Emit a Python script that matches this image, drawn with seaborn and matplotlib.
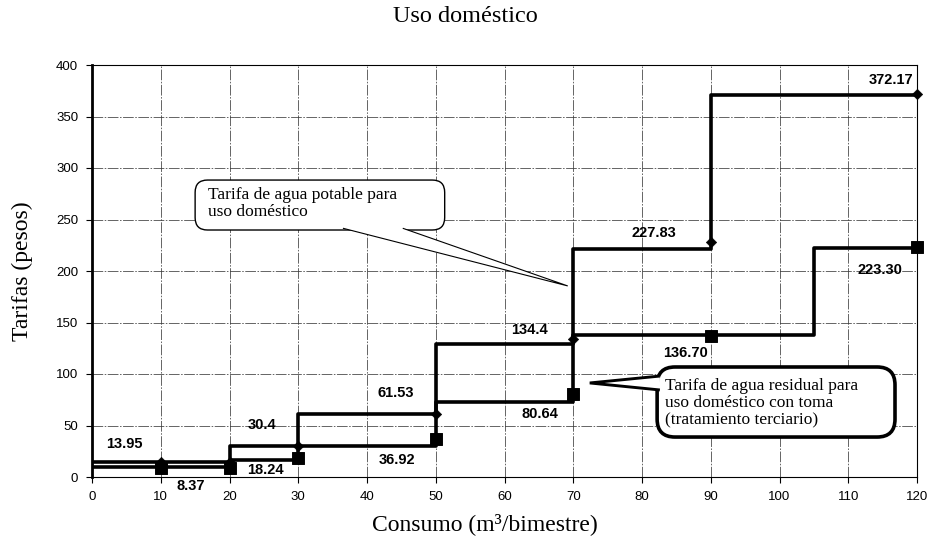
import pandas as pd
import seaborn as sns
import matplotlib.pyplot as plt
from matplotlib.patches import FancyBboxPatch, Polygon

# tariff blocks: where each block starts (last value closes the range) and the drawn level
potable_edges = [0, 20, 30, 50, 70, 90, 120]
potable_levels = [14.5, 30, 61.5, 129, 221.5, 371]
residual_edges = [0, 20, 30, 50, 70, 105, 120]
residual_levels = [9.5, 16.5, 30, 73, 138, 222]

# marked points on each series
mark_x = [10, 20, 30, 50, 70, 90, 120]
potable_marks = [14.5, 14.5, 30.4, 61.53, 134.4, 227.83, 372.17]
residual_marks = [9, 9, 18.24, 36.92, 80.64, 136.70, 223.30]

potable_labels = ["13.95", "30.4", "61.53", "134.4", "227.83", "372.17"]
residual_labels = ["8.37", "18.24", "36.92", "80.64", "136.70", "223.30"]

x_ticks = list(range(0, 121, 10))
y_ticks = list(range(0, 401, 50))

# where the value labels sit (data coords, label centre)
potable_label_xy = [(4.7, 32), (24.7, 50.5), (44.2, 81.5), (63.6, 142.5), (81.8, 237), (116.2, 385)]
residual_label_xy = [(14.3, -8.7), (25.2, 6.8), (44.4, 16.5), (65.2, 61), (86.3, 120), (114.6, 201)]

sns.set_style("white")
plt.rcParams["font.family"] = ["Liberation Sans", "DejaVu Sans"]
plt.rcParams["text.color"] = "black"
plt.rcParams["xtick.color"] = "black"
plt.rcParams["ytick.color"] = "black"
serif = ["Liberation Serif", "DejaVu Serif"]

fig, ax = plt.subplots(figsize=(9.3, 5.49), dpi=100)
fig.subplots_adjust(left=92 / 930, right=917 / 930, bottom=1 - 477 / 549, top=1 - 65 / 549)

pot_df = pd.DataFrame({"x": potable_edges, "y": potable_levels + [potable_levels[-1]]})
res_df = pd.DataFrame({"x": residual_edges, "y": residual_levels + [residual_levels[-1]]})

sns.lineplot(data=pot_df, x="x", y="y", drawstyle="steps-post", color="black",
             lw=2.6, estimator=None, sort=False, ax=ax, zorder=3)
sns.lineplot(data=res_df, x="x", y="y", drawstyle="steps-post", color="black",
             lw=2.6, estimator=None, sort=False, ax=ax, zorder=3)
sns.scatterplot(x=mark_x, y=potable_marks, marker="D", s=28, color="black",
                edgecolor="black", ax=ax, zorder=4, clip_on=False)
sns.scatterplot(x=mark_x, y=residual_marks, marker="s", s=70, color="black",
                edgecolor="black", ax=ax, zorder=4, clip_on=False)

for txt, (lx, ly) in zip(potable_labels, potable_label_xy):
    ax.text(lx, ly, txt, ha="center", va="center", fontsize=10.5, fontweight="bold",
            color="black", zorder=6)
for txt, (lx, ly) in zip(residual_labels, residual_label_xy):
    ax.text(lx, ly, txt, ha="center", va="center", fontsize=10.5, fontweight="bold",
            color="black", zorder=6)

ax.set_xlim(0, 120)
ax.set_ylim(0, 400)
ax.set_xticks(x_ticks)
ax.set_yticks(y_ticks)
ax.tick_params(axis="both", labelsize=9.5, length=4, width=0.8, direction="out",
               left=True, bottom=True, pad=6, colors="black")
ax.grid(True, color="#3a3a3a", lw=0.55, linestyle=(0, (14, 2, 2, 2)))
ax.set_xlabel("")
ax.set_ylabel("")
for side in ["top", "right", "bottom"]:
    ax.spines[side].set_color("black")
    ax.spines[side].set_linewidth(0.8)
ax.spines["left"].set_color("black")
ax.spines["left"].set_linewidth(2)

fig.text(0.5, 1 - 17 / 549, "Uso doméstico", ha="center", va="center", fontsize=17.5, family=serif)
fig.text(485 / 930, 1 - 524 / 549, "Consumo (m³/bimestre)", ha="center", va="center",
         fontsize=17, family=serif)
fig.text(22 / 930, 1 - 271 / 549, "Tarifas (pesos)", ha="center", va="center",
         rotation=90, fontsize=17, family=serif)

# callouts (speech bubbles)
aspect = (825 / 120) / (412 / 400)


def bubble(x0, y0, x1, y1, base_a, base_b, tip, text, tx, ty, lw, radius):
    box = FancyBboxPatch((x0, y0), x1 - x0, y1 - y0,
                         boxstyle=f"round,pad=0,rounding_size={radius}",
                         mutation_aspect=aspect, fc="white", ec="black", lw=lw, zorder=7)
    ax.add_patch(box)
    tail = Polygon([base_a, tip, base_b], closed=False, fc="white", ec="black",
                   lw=lw * 0.8, zorder=8, joinstyle="miter")
    ax.add_patch(tail)
    ax.text(tx, ty, text, ha="left", va="center", fontsize=12.5, family=serif,
            linespacing=1.12, color="black", zorder=9)


bubble(15.0, 239.8, 51.3, 288.3, (36.5, 241.5), (45.2, 241.5), (69.2, 185.5),
       "Tarifa de agua potable para\nuso doméstico", 16.9, 265.5, 1.0, 1.8)
bubble(82.2, 38.8, 116.8, 106.8, (82.6, 98), (82.6, 84.5), (72.4, 91.3),
       "Tarifa de agua residual para\nuso doméstico con toma\n(tratamiento terciario)",
       83.3, 71.8, 2.6, 2.6)

fig.savefig("out.png", dpi=100)
